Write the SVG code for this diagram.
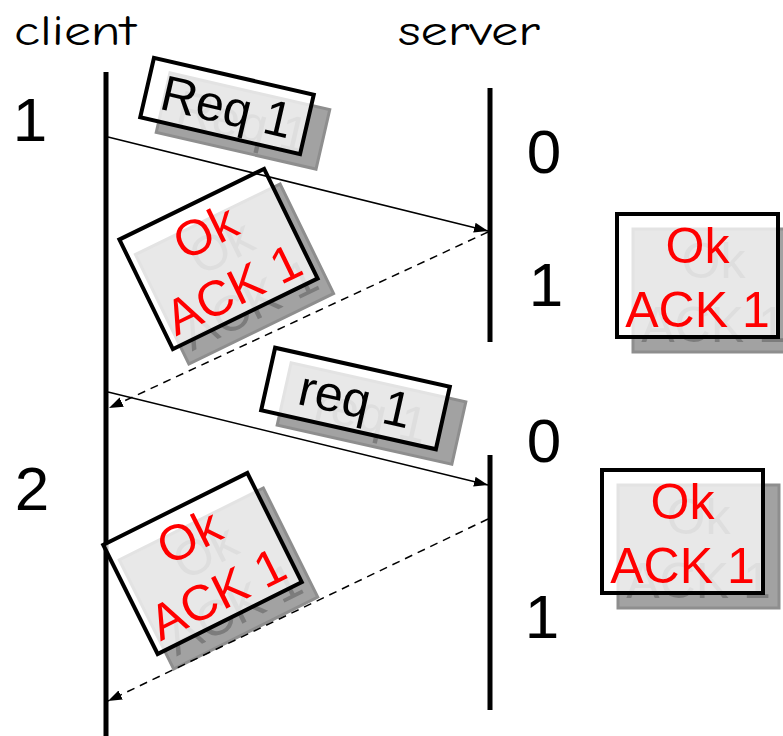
<svg xmlns="http://www.w3.org/2000/svg" width="783" height="736" viewBox="0 0 783 736">
  <style>
    .head { font-size: 42px; fill: #000; }
    .num { font-size: 62px; fill: #000; text-anchor: middle; }
    .life { stroke: #000; stroke-width: 5; fill: none; }
    .msg { stroke: #000; stroke-width: 1.5; fill: none; }
    .dash { stroke-dasharray: 8 6; }
    .shadow rect { fill: #a2a2a2; stroke: #8e8e8e; stroke-width: 3; }
    .shadow text { fill: #7c7c7c; }
    .front rect { fill: #fff; fill-opacity: 0.75; stroke: #000; stroke-width: 4; }
    .lbl { font-size: 50px; text-anchor: middle; }
    .front .red { fill: #ff0000; }
    .front .blk { fill: #000; }
  </style>
  <defs>
    <marker id="head" markerUnits="userSpaceOnUse" markerWidth="15" markerHeight="11" refX="14" refY="5" orient="auto">
      <path d="M0,0 L14,5 L0,10 z" fill="#000"/>
    </marker>
  </defs>

  <rect width="783" height="736" fill="#fff"/>

  <!-- column headings -->
  <g font-family="Comic Sans MS, Comic Neue, DejaVu Sans, sans-serif">
    <text class="head" x="14" y="45" textLength="122" lengthAdjust="spacingAndGlyphs">client</text>
    <text class="head" x="398" y="45" textLength="142" lengthAdjust="spacingAndGlyphs">server</text>
  </g>

  <!-- sequence numbers -->
  <g font-family="Liberation Sans, Arial, Helvetica, sans-serif">
    <text class="num" x="30" y="141">1</text>
    <text class="num" x="32" y="510">2</text>
    <text class="num" x="544" y="173">0</text>
    <text class="num" x="546" y="306">1</text>
    <text class="num" x="544" y="462">0</text>
    <text class="num" x="542" y="638">1</text>
  </g>

  <!-- lifelines -->
  <g id="lifelines">
    <line class="life" x1="106" y1="72" x2="106" y2="736"/>
    <line class="life" x1="490" y1="88" x2="490" y2="342"/>
    <line class="life" x1="490" y1="455" x2="490" y2="710"/>
  </g>

  <g font-family="Liberation Sans, Arial, Helvetica, sans-serif">
    <!-- packet: Req 1 -->
    <g id="pkt-req1">
      <g class="shadow" transform="translate(243,121) rotate(13)">
        <rect x="-82" y="-30.5" width="164" height="61"/>
        <text class="lbl" x="0" y="18">Req 1</text>
      </g>
      <g class="front" transform="translate(227,106) rotate(13)">
        <rect x="-82" y="-30.5" width="164" height="61"/>
        <text class="lbl blk" x="0" y="18">Req 1</text>
      </g>
    </g>

    <!-- packet: first ack on the client side -->
    <g id="pkt-ack-a">
      <g class="shadow" transform="translate(234.5,274) rotate(-26)">
        <rect x="-80.5" y="-61" width="161" height="122"/>
        <text class="lbl" x="0" y="-13">Ok</text>
        <text class="lbl" x="0" y="51">ACK 1</text>
      </g>
      <g class="front" transform="translate(218.5,259) rotate(-26)">
        <rect x="-80.5" y="-61" width="161" height="122"/>
        <text class="lbl red" x="0" y="-13">Ok</text>
        <text class="lbl red" x="0" y="51">ACK 1</text>
      </g>
    </g>

    <!-- packet: first ack on the server side -->
    <g id="pkt-ack-b">
      <g class="shadow" transform="translate(713.5,290.5)">
        <rect x="-80.5" y="-61.5" width="161" height="123"/>
        <text class="lbl" x="0" y="-13">Ok</text>
        <text class="lbl" x="0" y="51">ACK 1</text>
      </g>
      <g class="front" transform="translate(697.5,275.5)">
        <rect x="-80.5" y="-61.5" width="161" height="123"/>
        <text class="lbl red" x="0" y="-13">Ok</text>
        <text class="lbl red" x="0" y="51">ACK 1</text>
      </g>
    </g>

    <!-- packet: req 1 (retransmission) -->
    <g id="pkt-req1-again">
      <g class="shadow" transform="translate(371.5,413.5) rotate(12.6)">
        <rect x="-89.5" y="-32" width="179" height="64"/>
        <text class="lbl" x="0" y="18">req 1</text>
      </g>
      <g class="front" transform="translate(355.5,398.5) rotate(12.6)">
        <rect x="-89.5" y="-32" width="179" height="64"/>
        <text class="lbl blk" x="0" y="18">req 1</text>
      </g>
    </g>

    <!-- packet: second ack on the client side -->
    <g id="pkt-ack-c">
      <g class="shadow" transform="translate(218.5,578.5) rotate(-26.5)">
        <rect x="-80.5" y="-61" width="161" height="122"/>
        <text class="lbl" x="0" y="-13">Ok</text>
        <text class="lbl" x="0" y="51">ACK 1</text>
      </g>
      <g class="front" transform="translate(202.5,563.5) rotate(-26.5)">
        <rect x="-80.5" y="-61" width="161" height="122"/>
        <text class="lbl red" x="0" y="-13">Ok</text>
        <text class="lbl red" x="0" y="51">ACK 1</text>
      </g>
    </g>

    <!-- packet: second ack on the server side -->
    <g id="pkt-ack-d">
      <g class="shadow" transform="translate(698.5,546.5)">
        <rect x="-80.5" y="-61.5" width="161" height="123"/>
        <text class="lbl" x="0" y="-13">Ok</text>
        <text class="lbl" x="0" y="51">ACK 1</text>
      </g>
      <g class="front" transform="translate(682.5,531.5)">
        <rect x="-80.5" y="-61.5" width="161" height="123"/>
        <text class="lbl red" x="0" y="-13">Ok</text>
        <text class="lbl red" x="0" y="51">ACK 1</text>
      </g>
    </g>
  </g>

  <!-- messages -->
  <g id="connectors">
    <line class="msg" x1="108" y1="137" x2="488" y2="231" marker-end="url(#head)"/>
    <line class="msg dash" x1="488" y1="232" x2="109" y2="408" marker-end="url(#head)"/>
    <line class="msg" x1="108" y1="392" x2="488" y2="485" marker-end="url(#head)"/>
    <line class="msg dash" x1="488" y1="519" x2="108" y2="701" marker-end="url(#head)"/>
  </g>
</svg>
